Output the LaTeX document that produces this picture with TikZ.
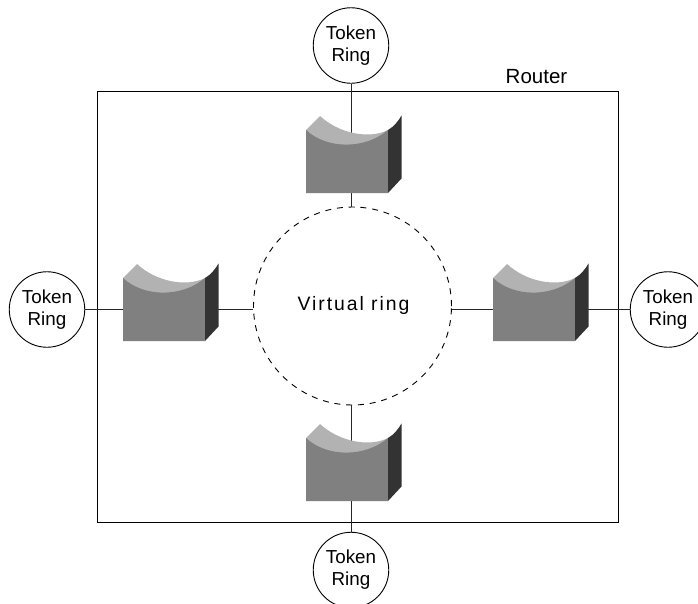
\documentclass[tikz,border=0pt]{standalone}
\usepackage{fontspec}
\setmainfont{Liberation Sans}
\definecolor{devfront}{HTML}{808080}
\definecolor{devtop}{HTML}{B2B2B2}
\definecolor{devside}{HTML}{333333}
\tikzset{
  ringnode/.style={circle,draw=black,line width=0.9pt,fill=white,minimum size=75.5pt,inner sep=0pt,align=center,font=\fontsize{18.8}{22}\selectfont},
  device/.style={rectangle,minimum width=82pt,minimum height=63pt,inner sep=0pt},
  conn/.style={draw=black!85,line width=0.95pt},
  routerbox/.style={draw=black,line width=0.9pt},
  vring/.style={circle,draw=black,line width=0.9pt,dash pattern=on 6pt off 5.8pt,minimum size=198pt,inner sep=0pt},
  lbl/.style={font=\fontsize{19.4}{22}\selectfont,inner sep=0pt}
}
\newcommand{\drawdevice}[1]{%
  \begin{scope}[shift={(#1.center)}]
  \fill[devtop] (-41,-31.5) -- (-27,-45.5) .. controls (-8,-28) and (22,-22) .. (41,-31.5) -- (41,0) -- (-41,0) -- cycle;
  \fill[devfront] (-41,-31.5) .. controls (-20,-12) and (18,-12) .. (41,-31.5) -- (41,31.5) -- (-41,31.5) -- cycle;
  \fill[devside] (41,-31.5) .. controls (47,-35) and (51,-40) .. (54.5,-46) -- (54.5,17) -- (41,31.5) -- cycle;
  \end{scope}
}
\begin{document}
\begin{tikzpicture}[x=1pt,y=-1pt]
\useasboundingbox (0,0) rectangle (698,603);
\begin{scope}
\clip (0,0) rectangle (698,603);
\node[device] (dt) at (347,161.5) {};
\node[device] (db) at (347,469.5) {};
\node[device] (dl) at (164,309.5) {};
\node[device] (dr) at (534,309.5) {};
\node[vring] (v) at (352.5,306) {};
\node[ringnode] (rt) at (351,45.5) {Token\\Ring};
\node[ringnode] (rb) at (351,570) {Token\\Ring};
\node[ringnode] (rl) at (47,309.5) {Token\\Ring};
\node[ringnode] (rr) at (668,309.5) {Token\\Ring};
\node[lbl] (vt) at (353.5,305) {\addfontfeature{LetterSpace=10}Virtual ring};
\draw[routerbox] (97,91.5) rectangle (618,522);
\coordinate (xt) at (351,161.5);
\coordinate (xb) at (351,469.5);
\draw[conn] (rt) -- (xt);
\draw[conn] (rb) -- (xb);
\draw[conn] (rl) -- (dl);
\draw[conn] (rr) -- (dr);
\draw[conn] (v.north -| xt) -- (xt);
\draw[conn] (v.south -| xb) -- (xb);
\draw[conn] (dl -| v.west) -- (dl);
\draw[conn] (dr -| v.east) -- (dr);
\drawdevice{dt}\drawdevice{db}\drawdevice{dl}\drawdevice{dr}
\end{scope}
\node[lbl,font=\fontsize{20.5}{22}\selectfont] (router) at (536.5,77) {Router};
\end{tikzpicture}
\end{document}
